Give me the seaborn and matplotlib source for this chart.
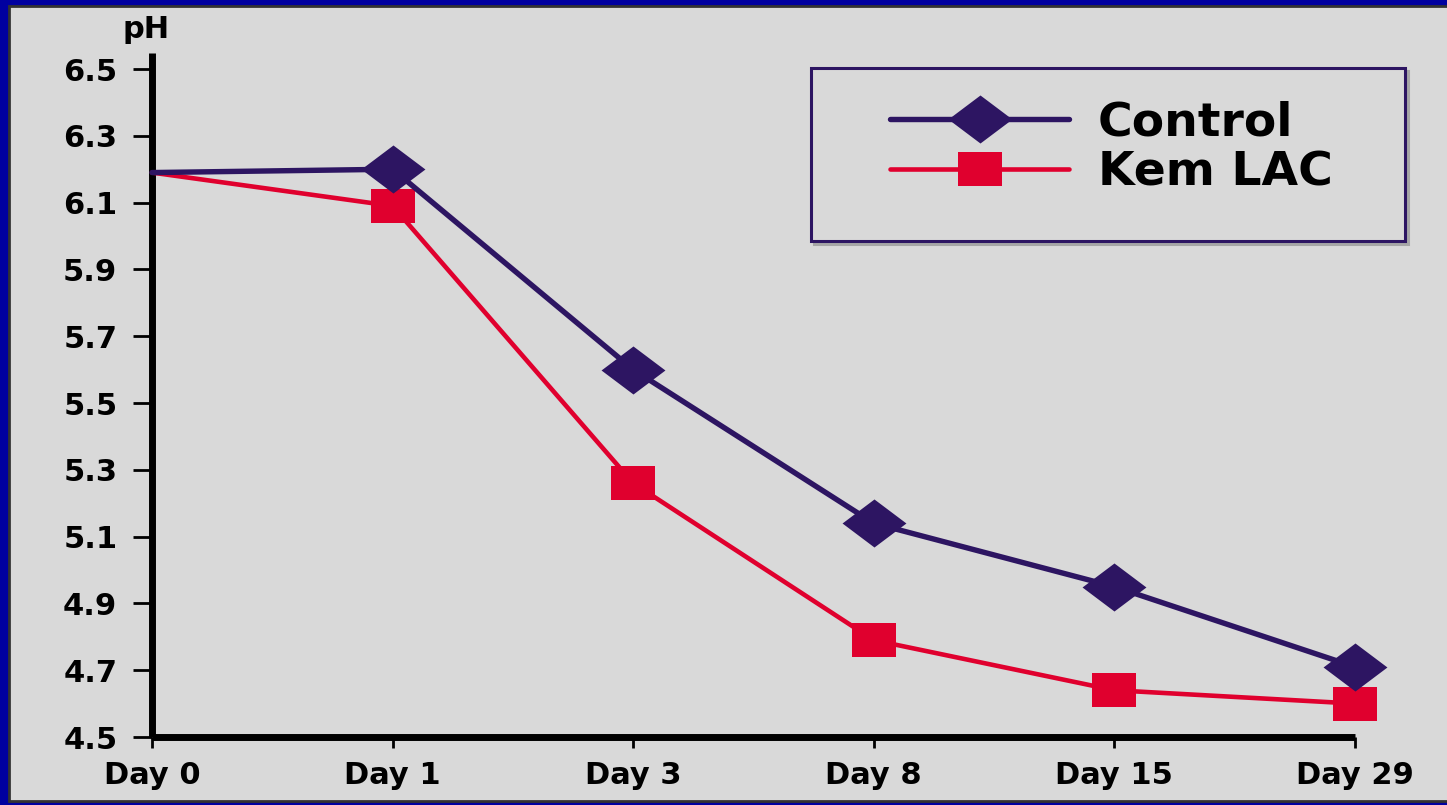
import pandas as pd
import seaborn as sns
import matplotlib.pyplot as plt
from matplotlib.patches import Rectangle
from matplotlib.lines import Line2D
from matplotlib.path import Path

# Data
days = ["Day 0", "Day 1", "Day 3", "Day 8", "Day 15", "Day 29"]
control_ph = [6.19, 6.20, 5.60, 5.14, 4.95, 4.71]
kem_lac_ph = [6.19, 6.09, 5.26, 4.79, 4.64, 4.60]
y_ticks = [4.5, 4.7, 4.9, 5.1, 5.3, 5.5, 5.7, 5.9, 6.1, 6.3, 6.5]

# Colours
FRAME_BLUE = "#0000a0"
PANEL_GRAY = "#d9d9d9"
NAVY = "#2d1562"
RED = "#e0002e"

W, H = 1447, 805

# Slightly wide markers, as in the original slide
diamond = Path([(-1.33, 0), (0, 1), (1.33, 0), (0, -1), (-1.33, 0)],
               [Path.MOVETO, Path.LINETO, Path.LINETO, Path.LINETO, Path.CLOSEPOLY])
square = Path([(-1.31, -1), (1.31, -1), (1.31, 1), (-1.31, 1), (-1.31, -1)],
              [Path.MOVETO, Path.LINETO, Path.LINETO, Path.LINETO, Path.CLOSEPOLY])

sns.set_style("ticks")
plt.rcParams["font.family"] = ["DejaVu Sans"]
plt.rcParams["font.weight"] = "bold"
plt.rcParams["text.color"] = "black"

fig = plt.figure(figsize=(W / 100, H / 100), dpi=100, facecolor=FRAME_BLUE)

# grey slide panel inside the blue frame
fig.add_artist(Rectangle((9 / W, 1 - 801 / H), 1.0, (801 - 6) / H,
                         transform=fig.transFigure, facecolor=PANEL_GRAY,
                         edgecolor="#333333", linewidth=2, zorder=-2))

ax = fig.add_axes([152 / W, 68 / H, (1355 - 152) / W, (737 - 53) / H])
ax.set_facecolor(PANEL_GRAY)

df = pd.DataFrame({"day": days, "Control": control_ph, "Kem LAC": kem_lac_ph})

sns.lineplot(data=df, x="day", y="Kem LAC", ax=ax, sort=False, color=RED,
             linewidth=3.3, marker=square, markersize=32, markeredgewidth=0,
             markevery=slice(1, None), zorder=3, clip_on=False)
sns.lineplot(data=df, x="day", y="Control", ax=ax, sort=False, color=NAVY,
             linewidth=3.9, marker=diamond, markersize=46, markeredgewidth=0,
             markevery=slice(1, None), zorder=4, clip_on=False)

ax.set_xlim(0, len(days) - 1)
ax.set_ylim(4.5, 6.548)
ax.set_yticks(y_ticks)
ax.set_yticklabels([f"{v:.1f}" for v in y_ticks])
ax.set_xlabel("")
ax.set_ylabel("")

for side in ["top", "right"]:
    ax.spines[side].set_visible(False)
for side in ["left", "bottom"]:
    ax.spines[side].set_linewidth(5)
    ax.spines[side].set_color("black")
    ax.spines[side].set_capstyle("butt")

ax.tick_params(axis="y", length=14, width=2, pad=11, labelsize=22, colors="black")
ax.tick_params(axis="x", length=8, width=2, pad=9, labelsize=22, colors="black")
for lab in ax.get_xticklabels() + ax.get_yticklabels():
    lab.set_fontweight("bold")

fig.text(146 / W, 1 - 38 / H, "pH", ha="center", va="baseline",
         fontsize=22, fontweight="bold", color="black")

# legend box with a faint shadow
fig.add_artist(Rectangle((814 / W, 1 - 244 / H), 594 / W, 173 / H,
                         transform=fig.transFigure, facecolor="none",
                         edgecolor="#a6a6a6", linewidth=2.2, zorder=1))
fig.add_artist(Rectangle((811 / W, 1 - 241 / H), 594 / W, 173 / H,
                         transform=fig.transFigure, facecolor=PANEL_GRAY,
                         edgecolor=NAVY, linewidth=2.2, zorder=1))

handles = [
    Line2D([], [], color=NAVY, linewidth=3.9, marker=diamond, markersize=46,
           markeredgewidth=0, label="Control"),
    Line2D([], [], color=RED, linewidth=3.3, marker=square, markersize=32,
           markeredgewidth=0, label="Kem LAC"),
]
leg = fig.legend(handles=handles, loc="center left",
                 bbox_to_anchor=(890 / W, 1 - 148 / H),
                 frameon=False, fontsize=34, handlelength=3.8,
                 handletextpad=0.6, labelspacing=0.12, borderpad=0,
                 borderaxespad=0)
leg.set_zorder(2)
for t in leg.get_texts():
    t.set_fontweight("bold")
    t.set_color("black")

fig.savefig("out.png", dpi=100, facecolor=FRAME_BLUE)
